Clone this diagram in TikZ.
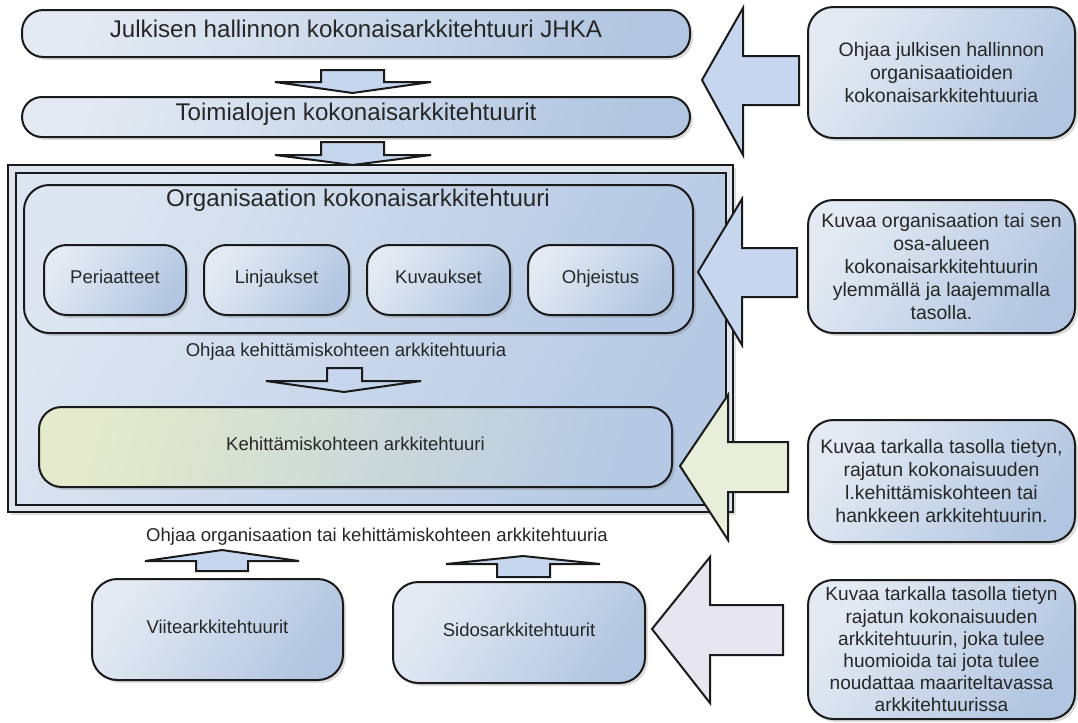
\documentclass[tikz,border=0pt]{standalone}
\usepackage{fontspec}
\setmainfont{Liberation Sans}
\usetikzlibrary{fit,shadows}

\definecolor{ink}{HTML}{1A1A1A}
\definecolor{txt}{HTML}{262626}
\definecolor{boxL}{HTML}{E4EAF3}
\definecolor{boxR}{HTML}{B2C6E1}
\definecolor{frameL}{HTML}{DDE5F1}
\definecolor{frameR}{HTML}{B6C9E4}
\definecolor{frameRim}{HTML}{DDE4EE}
\definecolor{greenL}{HTML}{E4EACB}
\definecolor{arrowBlue}{HTML}{C5D6EE}
\definecolor{arrowGreen}{HTML}{E8EEDA}
\definecolor{arrowLilac}{HTML}{E7E5EF}

\tikzset{
  outline/.style={draw=ink, line width=1.5pt},
  softshadow/.style={drop shadow={opacity=0.22, shadow xshift=2.2pt, shadow yshift=-2.2pt, fill=black!60}},
  panel/.style={outline, rounded corners=#1, inner sep=0pt, top color=boxL, bottom color=boxR, shading angle=55, softshadow},
  panel/.default=18pt,
  bigfont/.style={font=\fontsize{18.1pt}{21pt}\selectfont},
  midfont/.style={font=\fontsize{13.9pt}{16pt}\selectfont},
  notefont/.style={font=\fontsize{14.6pt}{17.2pt}\selectfont},
  tightnote/.style={font=\fontsize{14.3pt}{16.6pt}\selectfont},
  blockarrow/.style={outline, line join=miter, fill=arrowBlue},
  caption/.style={text=txt, inner sep=0pt, anchor=mid},
  notetext/.style={text=txt, inner sep=0pt, align=center, notefont},
}

\begin{document}
\begin{tikzpicture}[x=0.75pt, y=-0.75pt]
\useasboundingbox (0,0) rectangle (1078,722);

% ---- national and sector levels
\node[panel=16pt, shading angle=75, fit={(22,10) (690,57)}] (jhka) {};
\node[caption, bigfont] at (jhka.center) {Julkisen hallinnon kokonaisarkkitehtuuri JHKA};
\node[panel=15pt, shading angle=75, fit={(22,97) (690,137)}] (sector) {};
\node[caption, bigfont] at (sector.center) {Toimialojen kokonaisarkkitehtuurit};

% ---- organisation frame (double border)
\node[outline, fill=frameRim, inner sep=0pt, softshadow, fit={(8,165) (733,512)}] (frame) {};
\node[outline, inner sep=0pt, top color=frameL, bottom color=frameR, shading angle=60, fit={(16,173) (726,505)}] (frameIn) {};

\node[panel=19pt, top color=frameL, bottom color=frameR, shading angle=65, fit={(24,185) (693,333)}] (org) {};
\node[caption, bigfont] (orgTitle) at (358,203) {Organisaation kokonaisarkkitehtuuri};

\node[panel=17pt, fit={(44,245) (186,315)}] (peri) {};
\node[caption, midfont] at (peri.center) {Periaatteet};
\node[panel=17pt, fit={(204,245) (349,315)}] (linj) {};
\node[caption, midfont] at (linj.center) {Linjaukset};
\node[panel=17pt, fit={(367,245) (510,315)}] (kuva) {};
\node[caption, midfont] at (kuva.center) {Kuvaukset};
\node[panel=17pt, fit={(528,245) (673,315)}] (ohje) {};
\node[caption, midfont] at (ohje.center) {Ohjeistus};

\node[caption, midfont] (guideDev) at (346,353) {Ohjaa kehittämiskohteen arkkitehtuuria};

\node[panel=17pt, top color=greenL, bottom color=frameR, shading angle=75, fit={(39,407) (672,487)}] (kehit) {};
\node[caption, midfont] at (kehit.center) {Kehittämiskohteen arkkitehtuuri};

% ---- reference and binding architectures
\node[caption, midfont] (guideOrg) at (377,538) {Ohjaa organisaation tai kehittämiskohteen arkkitehtuuria};
\node[panel=19pt, fit={(92,579) (343,680)}] (viite) {};
\node[caption, midfont] at (viite.center) {Viitearkkitehtuurit};
\node[panel=19pt, fit={(393,582) (645,683)}] (sidos) {};
\node[caption, midfont] at (sidos.center) {Sidosarkkitehtuurit};

% ---- explanation boxes on the right
\node[panel=19pt, fit={(808,7) (1075,138)}] (note1) {};
\node[notetext] at (note1.center)
  {Ohjaa julkisen hallinnon\\organisaatioiden\\kokonaisarkkitehtuuria};
\node[panel=19pt, fit={(808,200) (1075,333)}] (note2) {};
\node[notetext] at (note2.center)
  {Kuvaa organisaation tai sen\\osa-alueen\\kokonaisarkkitehtuurin\\ylemmällä ja laajemmalla\\tasolla.};
\node[panel=19pt, fit={(808,420) (1075,542)}] (note3) {};
\node[notetext] at (note3.center)
  {Kuvaa tarkalla tasolla tietyn,\\rajatun kokonaisuuden\\l.kehittämiskohteen tai\\hankkeen arkkitehtuurin.};
\node[panel=19pt, fit={(808,580) (1075,719)}] (note4) {};
\node[notetext, tightnote] at (note4.center)
  {Kuvaa tarkalla tasolla tietyn\\rajatun kokonaisuuden\\arkkitehtuurin, joka tulee\\huomioida tai jota tulee\\noudattaa maariteltavassa\\arkkitehtuurissa};

% ---- downward block arrows
\draw[blockarrow] (321,70) -- (384,70) -- (384,82) -- (431,82) -- (352.5,93) -- (275,82) -- (321,82) -- cycle;
\draw[blockarrow] (321,142) -- (384,142) -- (384,155) -- (431,155) -- (352.5,165) -- (275,155) -- (321,155) -- cycle;
\draw[blockarrow] (327,368) -- (362,368) -- (362,381) -- (421,381) -- (344,392) -- (266,381) -- (327,381) -- cycle;

% ---- upward block arrows
\draw[blockarrow] (196,571) -- (248,571) -- (248,561) -- (299,561) -- (222,550) -- (145,561) -- (196,561) -- cycle;
\draw[blockarrow] (497,577) -- (550,577) -- (550,564) -- (600,564) -- (523,556) -- (446,564) -- (497,564) -- cycle;

% ---- leftward block arrows from the explanations
\draw[blockarrow] (702,80) -- (743,8) -- (743,56) -- (799,56) -- (799,105) -- (743,105) -- (743,155) -- cycle;
\draw[blockarrow] (698,272) -- (742,199) -- (742,248) -- (797,248) -- (797,297) -- (742,297) -- (742,345) -- cycle;
\draw[blockarrow, fill=arrowGreen] (680,466) -- (728,395) -- (728,442) -- (788,442) -- (788,492) -- (728,492) -- (728,540) -- cycle;
\draw[blockarrow, fill=arrowLilac] (652,629) -- (710,557) -- (710,605) -- (783,605) -- (783,655) -- (710,655) -- (710,703) -- cycle;
\end{tikzpicture}
\end{document}
